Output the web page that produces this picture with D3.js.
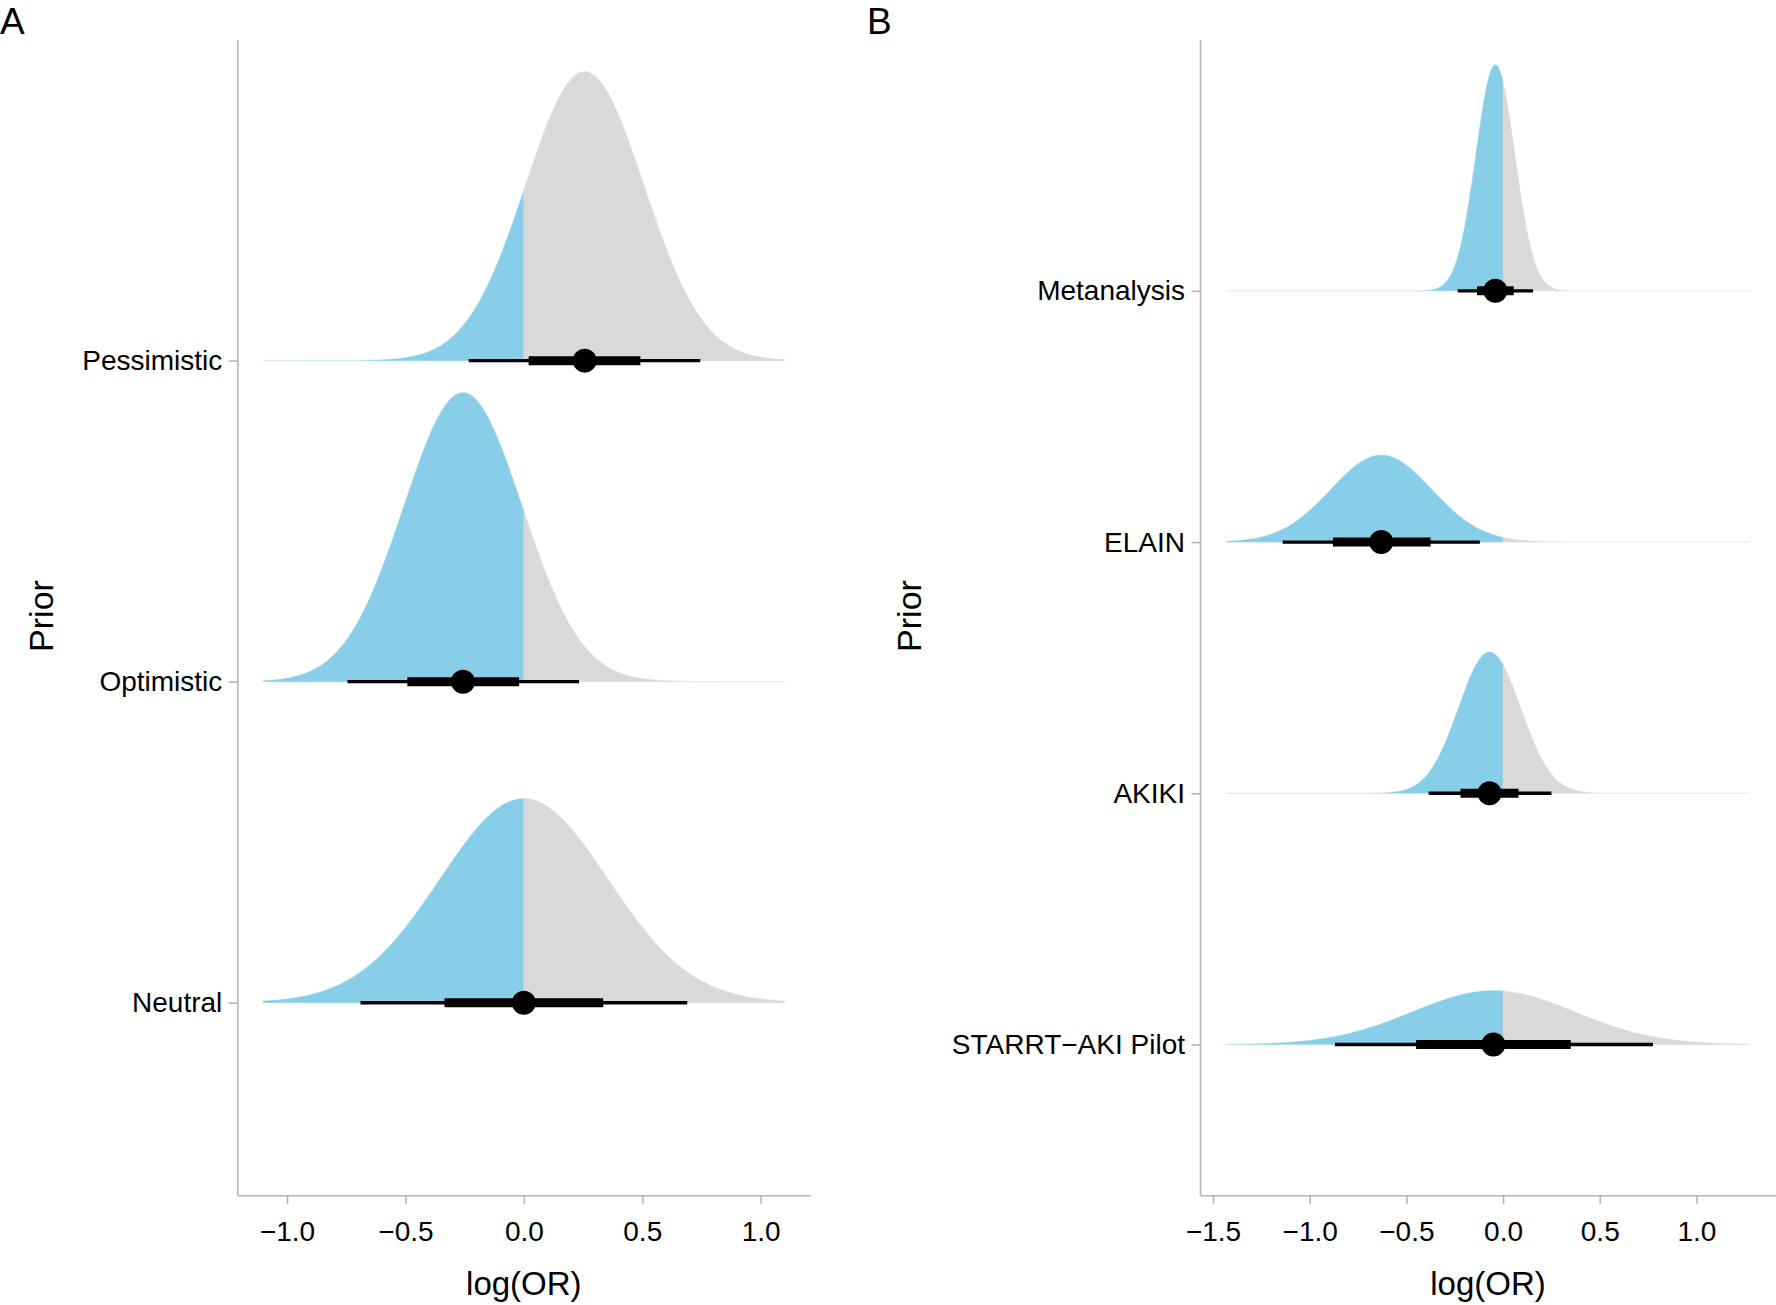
<!DOCTYPE html>
<html>
<head>
<meta charset="utf-8">
<script src="https://cdn.jsdelivr.net/npm/d3@7"></script>
<style>
  html, body { margin: 0; padding: 0; background: #ffffff; }
  svg { display: block; font-family: "Liberation Sans", Arial, Helvetica, sans-serif; }
</style>
</head>
<body>
<svg id="chart" width="1776" height="1305"></svg>
<script>
// ---------------- Data ----------------
// Panel A (listed top to bottom)
const priorsA   = ["Pessimistic", "Optimistic", "Neutral"];
const meanA     = [0.257, -0.257, 0.0];
const sdA       = [0.25, 0.25, 0.354];
const thinLoA   = [-0.233, -0.745, -0.69];
const thinHiA   = [0.745, 0.233, 0.69];
const thickLoA  = [0.02, -0.492, -0.335];
const thickHiA  = [0.492, -0.02, 0.335];
const densRangeA = [-1.1, 1.1];
const ticksA    = [-1.0, -0.5, 0.0, 0.5, 1.0];

// Panel B (listed top to bottom)
const priorsB   = ["Metanalysis", "ELAIN", "AKIKI", "STARRT\u2212AKI Pilot"];
const meanB     = [-0.04, -0.63, -0.07, -0.05];
const sdB       = [0.10, 0.26, 0.16, 0.42];
const thinLoB   = [-0.235, -1.14, -0.385, -0.87];
const thinHiB   = [0.155, -0.12, 0.25, 0.775];
const thickLoB  = [-0.135, -0.88, -0.22, -0.45];
const thickHiB  = [0.055, -0.375, 0.08, 0.35];
const densRangeB = [-1.432, 1.276];
const ticksB    = [-1.5, -1.0, -0.5, 0.0, 0.5, 1.0];

const blue = "#89CEE9";
const grey = "#D9D9D9";
const axisCol = "#B5B5B5";

const svg = d3.select("#chart");

function normPdf(x, m, s) {
  return Math.exp(-0.5 * ((x - m) / s) ** 2) / (s * Math.sqrt(2 * Math.PI));
}

function drawPanel(opt) {
  const n = opt.priors.length;
  const g = svg.append("g");
  const x = d3.scaleLinear().domain(opt.xDomain).range(opt.xRange);
  const y = d3.scaleLinear().domain([0.4, n + 1]).range([1195.3, 39.6]);

  const maxPdf = d3.max(opt.sd.map((s, i) => normPdf(opt.mean[i], opt.mean[i], s)));
  const scaleH = 0.9 / maxPdf;

  opt.priors.forEach((p, i) => {
    const level = n - i;
    const m = opt.mean[i], s = opt.sd[i];
    const N = 600;
    const [lo, hi] = opt.densRange;
    const pts = d3.range(N + 1).map(k => lo + (hi - lo) * k / N);
    const left = pts.filter(v => v < 0).concat(lo < 0 && hi > 0 ? [0] : []);
    const right = (lo < 0 && hi > 0 ? [0] : []).concat(pts.filter(v => v > 0));
    const area = d3.area()
      .x(v => x(v))
      .y0(y(level))
      .y1(v => y(level + normPdf(v, m, s) * scaleH));
    if (left.length > 1) {
      g.append("path").attr("d", area(left)).attr("fill", blue)
        .attr("stroke", blue).attr("stroke-width", 1.2).attr("stroke-opacity", 0.35);
    }
    if (right.length > 1) {
      g.append("path").attr("d", area(right)).attr("fill", grey)
        .attr("stroke", grey).attr("stroke-width", 1.2).attr("stroke-opacity", 0.45);
    }
    g.append("line")
      .attr("x1", x(opt.thinLo[i])).attr("x2", x(opt.thinHi[i]))
      .attr("y1", y(level)).attr("y2", y(level))
      .attr("stroke", "#000").attr("stroke-width", 3.4);
    g.append("line")
      .attr("x1", x(opt.thickLo[i])).attr("x2", x(opt.thickHi[i]))
      .attr("y1", y(level)).attr("y2", y(level))
      .attr("stroke", "#000").attr("stroke-width", 9);
    g.append("circle")
      .attr("cx", x(m)).attr("cy", y(level)).attr("r", 12)
      .attr("fill", "#000");
  });

  const xAxis = d3.axisBottom(x).tickValues(opt.ticks)
    .tickFormat(d3.format(".1f")).tickSize(8.5).tickSizeOuter(0).tickPadding(17);
  const gx = g.append("g").attr("transform", "translate(0,1195.3)").call(xAxis);
  gx.select(".domain").attr("stroke", axisCol).attr("stroke-width", 1.6);
  gx.selectAll(".tick line").attr("stroke", axisCol).attr("stroke-width", 1.6);
  gx.selectAll(".tick text").attr("font-size", 28).attr("fill", "#000")
    .attr("font-family", "Liberation Sans, Arial, sans-serif");

  const yAxis = d3.axisLeft(y)
    .tickValues(opt.priors.map((p, i) => n - i))
    .tickFormat(v => opt.priors[n - v])
    .tickSize(8.5).tickSizeOuter(0).tickPadding(6.5);
  const gy = g.append("g").attr("transform", `translate(${opt.xRange[0]},0)`).call(yAxis);
  gy.select(".domain").attr("stroke", axisCol).attr("stroke-width", 1.6);
  gy.selectAll(".tick line").attr("stroke", axisCol).attr("stroke-width", 1.6);
  gy.selectAll(".tick text").attr("font-size", 28).attr("fill", "#000")
    .attr("font-family", "Liberation Sans, Arial, sans-serif");

  g.append("text")
    .attr("x", (opt.xRange[0] + opt.xRange[1]) / 2 + opt.xTitleShift)
    .attr("y", 1295)
    .attr("text-anchor", "middle")
    .attr("font-size", 33)
    .text("log(OR)");
  g.append("text")
    .attr("transform", `translate(${opt.yTitleX},616) rotate(-90)`)
    .attr("text-anchor", "middle")
    .attr("font-size", 34)
    .text("Prior");
  g.append("text")
    .attr("x", opt.labelX).attr("y", 33.5)
    .attr("font-size", 37)
    .text(opt.label);
}

drawPanel({
  priors: priorsA, mean: meanA, sd: sdA,
  thinLo: thinLoA, thinHi: thinHiA, thickLo: thickLoA, thickHi: thickHiA,
  densRange: densRangeA, ticks: ticksA,
  xDomain: [-1.21, 1.21], xRange: [237.3, 810.4],
  xTitleShift: 0, yTitleX: 53, label: "A", labelX: 0
});

drawPanel({
  priors: priorsB, mean: meanB, sd: sdB,
  thinLo: thinLoB, thinHi: thinHiB, thickLo: thickLoB, thickHi: thickHiB,
  densRange: densRangeB, ticks: ticksB,
  xDomain: [-1.5674, 1.4114], xRange: [1200, 1776],
  xTitleShift: 0, yTitleX: 921, label: "B", labelX: 867
});
</script>
</body>
</html>
